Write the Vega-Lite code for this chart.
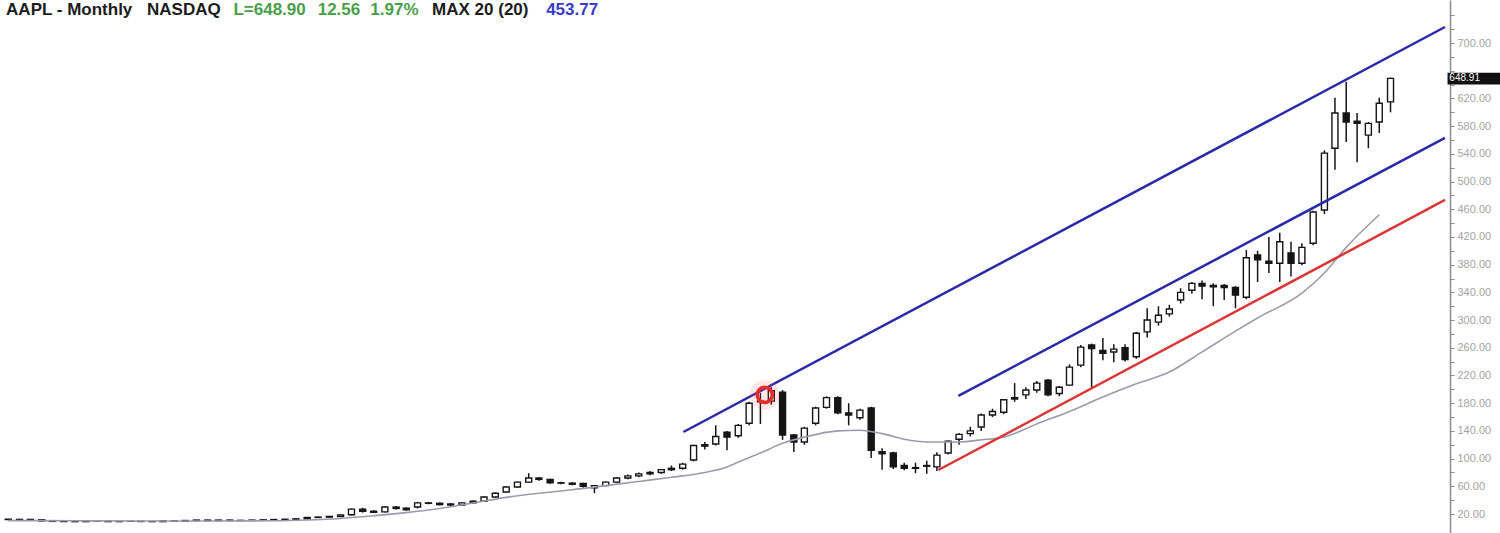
{
  "$schema": "https://vega.github.io/schema/vega-lite/v6.json",
  "width": 1450,
  "height": 533,
  "padding": 0,
  "background": "white",
  "config": {"view": {"stroke": null}},
  "datasets": {
    "candles": [
      {"date":"2002-03-01","open":12.5,"high":13,"low":11.5,"close":12},
      {"date":"2002-04-01","open":12,"high":13,"low":11.3,"close":12.2},
      {"date":"2002-05-01","open":12.2,"high":12.8,"low":11,"close":11.6},
      {"date":"2002-06-01","open":11.6,"high":12,"low":9.5,"close":10},
      {"date":"2002-07-01","open":10,"high":10.5,"low":8.5,"close":9.4},
      {"date":"2002-08-01","open":9.4,"high":10,"low":8.8,"close":9.2},
      {"date":"2002-09-01","open":9.2,"high":9.8,"low":8.6,"close":9},
      {"date":"2002-10-01","open":9,"high":10.5,"low":8.5,"close":10},
      {"date":"2002-11-01","open":10,"high":10.6,"low":9.3,"close":9.8},
      {"date":"2002-12-01","open":9.8,"high":10.2,"low":8.7,"close":9},
      {"date":"2003-01-01","open":9,"high":9.9,"low":8.6,"close":9.3},
      {"date":"2003-02-01","open":9.3,"high":9.9,"low":8.9,"close":9.4},
      {"date":"2003-03-01","open":9.4,"high":10,"low":8.8,"close":9.2},
      {"date":"2003-04-01","open":9.2,"high":9.6,"low":8.4,"close":9},
      {"date":"2003-05-01","open":9,"high":10.6,"low":8.8,"close":10},
      {"date":"2003-06-01","open":10,"high":10.5,"low":9.2,"close":9.7},
      {"date":"2003-07-01","open":9.7,"high":11.2,"low":9.4,"close":10.6},
      {"date":"2003-08-01","open":10.6,"high":11.6,"low":10.2,"close":11.2},
      {"date":"2003-09-01","open":11.2,"high":11.8,"low":10.2,"close":10.6},
      {"date":"2003-10-01","open":10.6,"high":11.8,"low":10.3,"close":11.2},
      {"date":"2003-11-01","open":11.2,"high":11.7,"low":10.2,"close":10.6},
      {"date":"2003-12-01","open":10.6,"high":11.4,"low":10.2,"close":10.8},
      {"date":"2004-01-01","open":10.8,"high":11.8,"low":10.4,"close":11.2},
      {"date":"2004-02-01","open":11.2,"high":12.2,"low":10.8,"close":11.6},
      {"date":"2004-03-01","open":11.6,"high":12.6,"low":11.2,"close":12},
      {"date":"2004-04-01","open":12,"high":13,"low":11.6,"close":12.4},
      {"date":"2004-05-01","open":12.4,"high":13.8,"low":12,"close":13},
      {"date":"2004-06-01","open":13,"high":15.6,"low":12.8,"close":15},
      {"date":"2004-07-01","open":15,"high":16.5,"low":14.6,"close":15.5},
      {"date":"2004-08-01","open":15.5,"high":17.2,"low":15,"close":16.5},
      {"date":"2004-09-01","open":16.5,"high":19.4,"low":16,"close":18.8},
      {"date":"2004-10-01","open":19,"high":28,"low":18,"close":27},
      {"date":"2004-11-01","open":27,"high":29,"low":22,"close":24},
      {"date":"2004-12-01","open":24,"high":25.5,"low":21.5,"close":22.5},
      {"date":"2005-01-01","open":23,"high":31,"low":22,"close":30},
      {"date":"2005-02-01","open":30,"high":31.5,"low":26.5,"close":28},
      {"date":"2005-03-01","open":28.5,"high":29.5,"low":25,"close":26},
      {"date":"2005-04-01","open":30,"high":37.5,"low":28,"close":36},
      {"date":"2005-05-01","open":36,"high":37.5,"low":34,"close":35.5},
      {"date":"2005-06-01","open":35.5,"high":36.5,"low":32.5,"close":33.5},
      {"date":"2005-07-01","open":34.5,"high":36,"low":32,"close":33},
      {"date":"2005-08-01","open":33,"high":37,"low":32,"close":36},
      {"date":"2005-09-01","open":36,"high":39.5,"low":35,"close":38.5},
      {"date":"2005-10-01","open":38.5,"high":45.5,"low":38,"close":44.5},
      {"date":"2005-11-01","open":44.5,"high":51,"low":44,"close":50},
      {"date":"2005-12-01","open":51.8,"high":60,"low":51,"close":59},
      {"date":"2006-01-01","open":59,"high":67,"low":58,"close":66},
      {"date":"2006-02-01","open":66,"high":79,"low":65,"close":72},
      {"date":"2006-03-01","open":72,"high":73,"low":68,"close":70},
      {"date":"2006-04-01","open":70,"high":71,"low":63.5,"close":65},
      {"date":"2006-05-01","open":65,"high":66.5,"low":63,"close":64.5},
      {"date":"2006-06-01","open":64.5,"high":66,"low":61.5,"close":63},
      {"date":"2006-07-01","open":64,"high":65,"low":58,"close":60},
      {"date":"2006-08-01","open":58,"high":62,"low":50,"close":61},
      {"date":"2006-09-01","open":61,"high":67,"low":60,"close":66},
      {"date":"2006-10-01","open":66,"high":73,"low":65,"close":72},
      {"date":"2006-11-01","open":72,"high":77,"low":70,"close":75},
      {"date":"2006-12-01","open":75,"high":80,"low":73,"close":78},
      {"date":"2007-01-01","open":78,"high":82,"low":76,"close":80},
      {"date":"2007-02-01","open":80,"high":85,"low":78,"close":84},
      {"date":"2007-03-01","open":84,"high":90,"low":82,"close":86},
      {"date":"2007-04-01","open":86,"high":94,"low":84,"close":92},
      {"date":"2007-05-01","open":98,"high":120,"low":96,"close":119},
      {"date":"2007-06-01","open":120,"high":124,"low":113,"close":118},
      {"date":"2007-07-01","open":121,"high":148,"low":119,"close":132},
      {"date":"2007-08-01","open":138,"high":140,"low":112,"close":131},
      {"date":"2007-09-01","open":133,"high":150,"low":130,"close":148},
      {"date":"2007-10-01","open":151,"high":182,"low":148,"close":180},
      {"date":"2007-11-01","open":182,"high":195,"low":150,"close":183},
      {"date":"2007-12-01","open":183,"high":203,"low":178,"close":198},
      {"date":"2008-01-01","open":196,"high":199,"low":127,"close":134},
      {"date":"2008-02-01","open":134,"high":135,"low":109.5,"close":124},
      {"date":"2008-03-01","open":124,"high":146,"low":120,"close":144},
      {"date":"2008-04-01","open":151,"high":175,"low":148,"close":173},
      {"date":"2008-05-01","open":174,"high":190,"low":172,"close":188},
      {"date":"2008-06-01","open":188,"high":190,"low":164,"close":166},
      {"date":"2008-07-01","open":166,"high":180,"low":148,"close":163},
      {"date":"2008-08-01","open":159,"high":172,"low":156,"close":170},
      {"date":"2008-09-01","open":173,"high":175,"low":101,"close":112},
      {"date":"2008-10-01","open":110,"high":115,"low":84,"close":107},
      {"date":"2008-11-01","open":108,"high":110,"low":85,"close":88},
      {"date":"2008-12-01","open":90,"high":94,"low":83,"close":86},
      {"date":"2009-01-01","open":87,"high":94,"low":79,"close":86},
      {"date":"2009-02-01","open":90,"high":97,"low":78,"close":89},
      {"date":"2009-03-01","open":88,"high":109,"low":82,"close":105},
      {"date":"2009-04-01","open":108,"high":126,"low":106,"close":125},
      {"date":"2009-05-01","open":128,"high":137,"low":120,"close":135},
      {"date":"2009-06-01","open":136,"high":146,"low":132,"close":140},
      {"date":"2009-07-01","open":145.6,"high":165,"low":140,"close":162.9},
      {"date":"2009-08-01","open":163,"high":172,"low":160,"close":168},
      {"date":"2009-09-01","open":167,"high":186,"low":164,"close":185},
      {"date":"2009-10-01","open":188,"high":209,"low":182,"close":186},
      {"date":"2009-11-01","open":192,"high":203,"low":186,"close":199},
      {"date":"2009-12-01","open":199,"high":212,"low":195,"close":209},
      {"date":"2010-01-01","open":213,"high":215,"low":190,"close":192},
      {"date":"2010-02-01","open":194,"high":205,"low":190,"close":203},
      {"date":"2010-03-01","open":206,"high":236,"low":205,"close":232},
      {"date":"2010-04-01","open":235,"high":264,"low":232,"close":261},
      {"date":"2010-05-01","open":264,"high":266,"low":201,"close":259},
      {"date":"2010-06-01","open":256,"high":274,"low":242,"close":252},
      {"date":"2010-07-01","open":254,"high":265,"low":239,"close":258},
      {"date":"2010-08-01","open":260,"high":265,"low":240,"close":243},
      {"date":"2010-09-01","open":247,"high":283,"low":244,"close":281},
      {"date":"2010-10-01","open":283,"high":317,"low":275,"close":300},
      {"date":"2010-11-01","open":297,"high":320,"low":292,"close":307},
      {"date":"2010-12-01","open":309,"high":322,"low":305,"close":316},
      {"date":"2011-01-01","open":329,"high":346,"low":324,"close":340},
      {"date":"2011-02-01","open":343,"high":355,"low":338,"close":353},
      {"date":"2011-03-01","open":353,"high":357,"low":330,"close":349},
      {"date":"2011-04-01","open":348,"high":353,"low":320,"close":350},
      {"date":"2011-05-01","open":350,"high":352,"low":329,"close":347},
      {"date":"2011-06-01","open":347,"high":349,"low":317,"close":336},
      {"date":"2011-07-01","open":333,"high":401,"low":330,"close":390},
      {"date":"2011-08-01","open":394,"high":400,"low":355,"close":387},
      {"date":"2011-09-01","open":385,"high":420,"low":368,"close":382},
      {"date":"2011-10-01","open":382,"high":426,"low":355,"close":413},
      {"date":"2011-11-01","open":397,"high":413,"low":363,"close":382},
      {"date":"2011-12-01","open":382,"high":411,"low":379,"close":405},
      {"date":"2012-01-01","open":411,"high":458,"low":408,"close":456},
      {"date":"2012-02-01","open":459,"high":545,"low":453,"close":541},
      {"date":"2012-03-01","open":548,"high":621,"low":517,"close":599},
      {"date":"2012-04-01","open":599,"high":644,"low":557,"close":586},
      {"date":"2012-05-01","open":587,"high":599,"low":528,"close":584},
      {"date":"2012-06-01","open":567,"high":586,"low":548,"close":584},
      {"date":"2012-07-01","open":586,"high":621,"low":570,"close":613},
      {"date":"2012-08-01","open":615,"high":650,"low":600,"close":649}
    ],
    "ma": [
      {"date":"2002-03-01","value":10.5},
      {"date":"2002-09-01","value":10.2},
      {"date":"2003-03-01","value":9.8},
      {"date":"2003-09-01","value":9.8},
      {"date":"2004-03-01","value":10.2},
      {"date":"2004-06-01","value":11.3},
      {"date":"2004-09-01","value":13.5},
      {"date":"2004-12-01","value":17.5},
      {"date":"2005-03-01","value":22},
      {"date":"2005-06-01","value":28},
      {"date":"2005-09-01","value":36},
      {"date":"2005-12-01","value":44},
      {"date":"2006-03-01","value":50},
      {"date":"2006-06-01","value":55},
      {"date":"2006-09-01","value":61},
      {"date":"2006-12-01","value":67},
      {"date":"2007-03-01","value":73},
      {"date":"2007-06-01","value":80},
      {"date":"2007-08-01","value":88},
      {"date":"2007-09-01","value":95},
      {"date":"2007-11-01","value":108},
      {"date":"2008-01-01","value":122},
      {"date":"2008-03-01","value":131},
      {"date":"2008-06-01","value":140},
      {"date":"2008-08-01","value":141},
      {"date":"2008-10-01","value":136},
      {"date":"2008-12-01","value":128},
      {"date":"2009-02-01","value":124},
      {"date":"2009-05-01","value":124},
      {"date":"2009-07-01","value":127},
      {"date":"2009-09-01","value":131},
      {"date":"2009-12-01","value":150},
      {"date":"2010-03-01","value":168},
      {"date":"2010-06-01","value":189},
      {"date":"2010-09-01","value":208},
      {"date":"2010-12-01","value":225},
      {"date":"2011-03-01","value":254},
      {"date":"2011-06-01","value":284},
      {"date":"2011-08-01","value":303},
      {"date":"2011-12-01","value":339},
      {"date":"2012-02-01","value":368},
      {"date":"2012-04-01","value":405},
      {"date":"2012-07-01","value":452}
    ],
    "channels": [
      {"line":"upper","date":"2007-04-03","value":138.4},
      {"line":"upper","date":"2012-12-29","value":723.1},
      {"line":"middle","date":"2009-04-29","value":190.4},
      {"line":"middle","date":"2012-12-29","value":562.9},
      {"line":"lower","date":"2009-03-05","value":83.5},
      {"line":"lower","date":"2012-12-29","value":473.4}
    ],
    "header": [
      {"date":"2002-02-23","value":747.7,"text":"AAPL - Monthly","kind":"name"},
      {"date":"2003-03-18","value":747.7,"text":"NASDAQ","kind":"name"},
      {"date":"2003-11-11","value":747.7,"text":"L=648.90","kind":"last"},
      {"date":"2004-06-30","value":747.7,"text":"12.56","kind":"last"},
      {"date":"2004-11-22","value":747.7,"text":"1.97%","kind":"last"},
      {"date":"2005-05-11","value":747.7,"text":"MAX 20 (20)","kind":"name"},
      {"date":"2006-03-21","value":747.7,"text":"453.77","kind":"ma"}
    ],
    "marker": [
      {"date":"2007-11-13","value":192}
    ],
    "tag": [
      {"date":"2013-01-05","date2":"2013-06-30","lo":640,"hi":657,"value":648.91,"tdate":"2013-01-10","text":"648.91"}
    ]
  },
  "resolve": {"scale": {"color": "independent"}},
  "layer": [
    {
      "data": {"name": "candles"},
      "mark": {"type": "rule", "strokeWidth": 1.5, "color": "#151515"},
      "encoding": {
        "x": {"field": "date", "type": "temporal", "axis": null,
              "scale": {"domain": [{"year": 2002, "month": 2, "date": 20, "utc": true}, {"year": 2012, "month": 12, "date": 29, "utc": true}]}},
        "y": {"field": "low", "type": "quantitative",
              "scale": {"domain": [-7.43, 762.1], "nice": false, "zero": false},
              "axis": {"orient": "right", "title": null, "tickCount": 200,
                       "values": [20,40,60,80,100,120,140,160,180,200,220,240,260,280,300,320,340,360,380,400,420,440,460,480,500,520,540,560,580,600,620,640,660,680,700,720,740],
                       "labelExpr": "(datum.value % 40 == 20 && datum.value != 660 && datum.value != 740) ? format(datum.value, '.2f') : ''",
                       "labelOverlap": false, "labelFont": "Liberation Sans", "labelFontSize": 11,
                       "labelColor": "#a3a3a3", "labelPadding": 3, "tickSize": 4, "tickColor": "#8c8c8c",
                       "domainColor": "#8c8c8c", "domainWidth": 1.5, "grid": false}},
        "y2": {"field": "high"}
      }
    },
    {
      "data": {"name": "candles"},
      "mark": {"type": "bar", "width": 6, "stroke": "#151515", "strokeWidth": 1.4},
      "encoding": {
        "x": {"field": "date", "type": "temporal"},
        "y": {"field": "open", "type": "quantitative"},
        "y2": {"field": "close"},
        "fill": {"condition": {"test": "datum.close >= datum.open", "value": "white"}, "value": "#151515"}
      }
    },
    {
      "data": {"name": "ma"},
      "mark": {"type": "line", "color": "#9a9cab", "strokeWidth": 1.6, "interpolate": "monotone"},
      "encoding": {
        "x": {"field": "date", "type": "temporal"},
        "y": {"field": "value", "type": "quantitative"}
      }
    },
    {
      "data": {"name": "channels"},
      "mark": {"type": "line", "strokeWidth": 2.5},
      "encoding": {
        "x": {"field": "date", "type": "temporal"},
        "y": {"field": "value", "type": "quantitative"},
        "color": {"field": "line", "type": "nominal", "legend": null,
                  "scale": {"domain": ["upper", "middle", "lower"], "range": ["#2a2aa8", "#2a2aa8", "#d93636"]}}
      }
    },
    {
      "data": {"name": "marker"},
      "mark": {"type": "point", "shape": "circle", "filled": true, "size": 900, "color": "#ff6060", "opacity": 0.15},
      "encoding": {
        "x": {"field": "date", "type": "temporal"},
        "y": {"field": "value", "type": "quantitative"}
      }
    },
    {
      "data": {"name": "marker"},
      "mark": {"type": "point", "shape": "circle", "filled": false, "size": 230, "stroke": "#ea2b2b", "strokeWidth": 3.5, "opacity": 1},
      "encoding": {
        "x": {"field": "date", "type": "temporal"},
        "y": {"field": "value", "type": "quantitative"}
      }
    },
    {
      "data": {"name": "header"},
      "mark": {"type": "text", "align": "left", "baseline": "middle", "font": "Liberation Sans", "fontSize": 17, "fontWeight": "bold"},
      "encoding": {
        "x": {"field": "date", "type": "temporal"},
        "y": {"field": "value", "type": "quantitative"},
        "text": {"field": "text"},
        "color": {"field": "kind", "type": "nominal", "legend": null,
                  "scale": {"domain": ["name", "last", "ma"], "range": ["#1b1b1b", "#4a9e4a", "#3b3bc8"]}}
      }
    },
    {
      "data": {"name": "tag"},
      "mark": {"type": "rect", "color": "#111111"},
      "encoding": {
        "x": {"field": "date", "type": "temporal"},
        "x2": {"field": "date2"},
        "y": {"field": "lo", "type": "quantitative"},
        "y2": {"field": "hi"}
      }
    },
    {
      "data": {"name": "tag"},
      "mark": {"type": "text", "align": "left", "baseline": "middle", "font": "Liberation Sans", "fontSize": 10, "color": "white"},
      "encoding": {
        "x": {"field": "tdate", "type": "temporal"},
        "y": {"field": "value", "type": "quantitative"},
        "text": {"field": "text"}
      }
    }
  ]
}
